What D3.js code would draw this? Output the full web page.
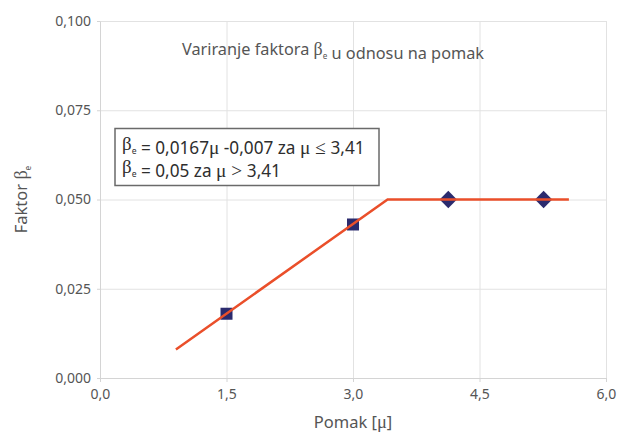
<!DOCTYPE html>
<html>
<head>
<meta charset="utf-8">
<script src="https://cdn.jsdelivr.net/npm/d3@7"></script>
<style>
  html, body { margin: 0; padding: 0; background: #fff; }
  svg { display: block; font-family: "Noto Sans", "Open Sans", sans-serif; }
  .axis path, .axis line { stroke: #d4d4d4; }
  .axis text { fill: #555; font-size: 14px; font-family: "Noto Sans", sans-serif; }
  .grid line { stroke: #e2e2e2; }
  .grid path { display: none; }
  .sym { font-family: "Liberation Serif", "DejaVu Serif", serif; }
</style>
</head>
<body>
<div id="chart"></div>
<script>
// Data
const xTicks = [0, 1.5, 3.0, 4.5, 6.0];
const yTicks = [0, 0.025, 0.05, 0.075, 0.1];

// measured points: squares below the knee, diamonds above it
const squareX = [1.5, 3.0];
const squareY = [0.018, 0.043];
const diamondX = [4.13, 5.26];
const diamondY = [0.05, 0.05];

// fitted piecewise line: 0.0167*mu - 0.007 up to 3.41, then 0.05
const fitX = [0.9, 3.41, 5.56];
const fitY = [0.008, 0.05, 0.05];

const W = 621, H = 435;
const margin = { top: 21, right: 15, bottom: 57, left: 100 };

const svg = d3.select("#chart").append("svg")
  .attr("width", W).attr("height", H).attr("viewBox", `0 0 ${W} ${H}`);

const x = d3.scaleLinear().domain([0, 6]).range([margin.left, W - margin.right]);
const y = d3.scaleLinear().domain([0, 0.1]).range([H - margin.bottom, margin.top]);
const fmtX = d => d3.format(".1f")(d).replace(".", ",");
const fmtY = d => d3.format(".3f")(d).replace(".", ",");

// grid
svg.append("g").attr("class", "grid")
  .attr("transform", `translate(0,${y(0)})`)
  .call(d3.axisBottom(x).tickValues(xTicks.slice(1)).tickSize(-(y(0) - y(0.1))).tickFormat(""));
svg.append("g").attr("class", "grid")
  .attr("transform", `translate(${x(0)},0)`)
  .call(d3.axisLeft(y).tickValues(yTicks.slice(1)).tickSize(-(x(6) - x(0))).tickFormat(""));

// axes
svg.append("g").attr("class", "axis")
  .attr("transform", `translate(0,${y(0)})`)
  .call(d3.axisBottom(x).tickValues(xTicks).tickSize(4).tickSizeOuter(0).tickPadding(7).tickFormat(fmtX));
svg.append("g").attr("class", "axis")
  .attr("transform", `translate(${x(0)},0)`)
  .call(d3.axisLeft(y).tickValues(yTicks).tickSize(3).tickSizeOuter(0).tickPadding(6).tickFormat(fmtY));

// markers
const navy = "#2b2b6e";
svg.append("g").selectAll("rect").data(squareX).join("rect")
  .attr("x", d => x(d) - 6).attr("y", (d, i) => y(squareY[i]) - 6)
  .attr("width", 12).attr("height", 12).attr("fill", navy);
svg.append("g").selectAll("path").data(diamondX).join("path")
  .attr("transform", (d, i) => `translate(${x(d)},${y(diamondY[i])})`)
  .attr("d", d3.symbol(d3.symbolDiamond2, 190)).attr("fill", navy);

// fit line
const line = d3.line().x((d, i) => x(fitX[i])).y(d => y(d));
svg.append("path").datum(fitY).attr("fill", "none")
  .attr("stroke", "#ea4f2a").attr("stroke-width", 2.5).attr("d", line);

// helper: beta with subscript e
function beta(t, size) {
  t.append("tspan").attr("class", "sym").attr("font-size", size * 1.1).text("β");
  t.append("tspan").attr("font-size", size * 0.5).attr("dy", 4).text("e");
  t.append("tspan").attr("dy", -4).text("");
}
function mu(t, size, s) {
  t.append("tspan").attr("class", "sym").attr("font-size", size * 1.12).text(s);
}

// title
const title = svg.append("text").attr("x", 333).attr("y", 55)
  .attr("text-anchor", "middle").attr("fill", "#555").attr("font-size", 16.3);
title.append("tspan").text("Variranje faktora ");
beta(title, 16.3);
title.append("tspan").text(" u odnosu na pomak");

// equation box
svg.append("rect").attr("x", 115).attr("y", 128.5).attr("width", 264).attr("height", 57)
  .attr("fill", "#fff").attr("stroke", "#6a6a6a").attr("stroke-width", 1.5);
const eq1 = svg.append("text").attr("x", 122).attr("y", 150).attr("fill", "#2e2e2e").attr("font-size", 17.2);
beta(eq1, 17.2);
eq1.append("tspan").text(" = 0,0167");
mu(eq1, 17.2, "μ");
eq1.append("tspan").text(" -0,007 za ");
mu(eq1, 17.2, "μ ≤ ");
eq1.append("tspan").text("3,41");
const eq2 = svg.append("text").attr("x", 122).attr("y", 173).attr("fill", "#2e2e2e").attr("font-size", 17.2);
beta(eq2, 17.2);
eq2.append("tspan").text(" = 0,05 za ");
mu(eq2, 17.2, "μ > ");
eq2.append("tspan").text("3,41");

// axis titles
const yl = svg.append("text").attr("transform", `translate(27,${y(0.05)}) rotate(-90)`)
  .attr("text-anchor", "middle").attr("fill", "#555").attr("font-size", 16.5);
yl.append("tspan").text("Faktor  ");
beta(yl, 16.5);
const xl = svg.append("text").attr("x", x(3)).attr("y", 428)
  .attr("text-anchor", "middle").attr("fill", "#555").attr("font-size", 16.5);
xl.append("tspan").text("Pomak [");
mu(xl, 16.5, "μ");
xl.append("tspan").text("]");
</script>
</body>
</html>
